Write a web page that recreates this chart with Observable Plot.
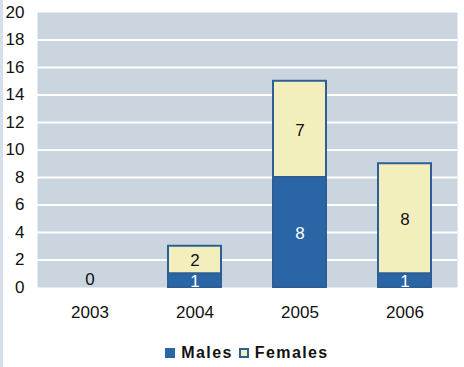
<!DOCTYPE html>
<html>
<head>
<meta charset="utf-8">
<script src="https://cdn.jsdelivr.net/npm/d3@7"></script>
<script src="https://cdn.jsdelivr.net/npm/@observablehq/plot@0.6"></script>
<style>
  html, body { margin: 0; padding: 0; background: #ffffff; }
  body { width: 464px; height: 367px; overflow: hidden; position: relative; font-family: "Liberation Sans", Arial, sans-serif; }
  #strip { position: absolute; left: 0; top: 0; width: 3px; height: 367px; background: #d6dfeb; }
  #chart { position: absolute; left: 0; top: 0; }
  #legend { position: absolute; left: 37px; width: 420px; top: 344px; display: flex; justify-content: center; align-items: center; font-weight: bold; font-size: 16px; letter-spacing: 1.4px; color: #111; }
  .sw { width: 10px; height: 10px; display: inline-block; margin-right: 6px; box-sizing: border-box; }
  .item { display: flex; align-items: center; margin: 0 3px; }
</style>
</head>
<body>
<div id="strip"></div>
<div id="chart"></div>
<div id="legend"></div>
<script>
const years = ["2003", "2004", "2005", "2006"];
const males = [0, 1, 8, 1];
const females = [0, 2, 7, 8];
const yTicks = [0, 2, 4, 6, 8, 10, 12, 14, 16, 18, 20];
const seriesNames = ["Males", "Females"];

const maleColor = "#2a65a5";
const femaleColor = "#f3efbd";
const edgeColor = "#2d5f96";

const segs = [];
years.forEach((yr, i) => {
  if (males[i] > 0) segs.push({year: yr, sex: "Males", y1: 0, y2: males[i], v: males[i]});
  if (females[i] > 0) segs.push({year: yr, sex: "Females", y1: males[i], y2: males[i] + females[i], v: females[i]});
});
const zeroLabels = years.map((yr, i) => ({year: yr, total: males[i] + females[i]})).filter(d => d.total === 0);

const chart = Plot.plot({
  width: 464,
  height: 330,
  marginTop: 12,
  marginBottom: 43,
  marginLeft: 37,
  marginRight: 7,
  style: {fontFamily: "'Liberation Sans', Arial, sans-serif", fontSize: "17px", color: "#111", background: "transparent"},
  x: {domain: years, paddingInner: 0.5, paddingOuter: 0.25, label: null},
  y: {domain: [0, 20], label: null},
  marks: [
    Plot.frame({fill: "#cbd5e0", stroke: null}),
    Plot.gridY(yTicks.filter(t => t > 0 && t < 20), {stroke: "#ffffff", strokeOpacity: 1, strokeWidth: 2}),
    Plot.axisY({ticks: yTicks, tickSize: 0, tickPadding: 13, fontSize: 17, label: null}),
    Plot.axisX({tickSize: 0, tickPadding: 18, fontSize: 17, label: null}),
    Plot.rectY(segs, {x: "year", y1: "y1", y2: "y2", fill: d => d.sex === "Males" ? maleColor : femaleColor, stroke: edgeColor, strokeWidth: 2}),
    Plot.text(segs, {x: "year", y: d => (d.y1 + d.y2) / 2, text: d => String(d.v), fill: d => d.sex === "Males" ? "#ffffff" : "#111111", fontSize: 17, dy: 1}),
    Plot.text(zeroLabels, {x: "year", y: 0, text: d => String(d.total), fill: "#111111", fontSize: 17, dy: -8})
  ]
});
document.getElementById("chart").appendChild(chart);

const legend = document.getElementById("legend");
seriesNames.forEach((name, i) => {
  const item = document.createElement("div");
  item.className = "item";
  const sw = document.createElement("span");
  sw.className = "sw";
  sw.style.background = i === 0 ? maleColor : femaleColor;
  sw.style.border = i === 0 ? "none" : "2px solid " + edgeColor;
  item.appendChild(sw);
  const t = document.createElement("span");
  t.textContent = name;
  item.appendChild(t);
  legend.appendChild(item);
});
</script>
</body>
</html>
